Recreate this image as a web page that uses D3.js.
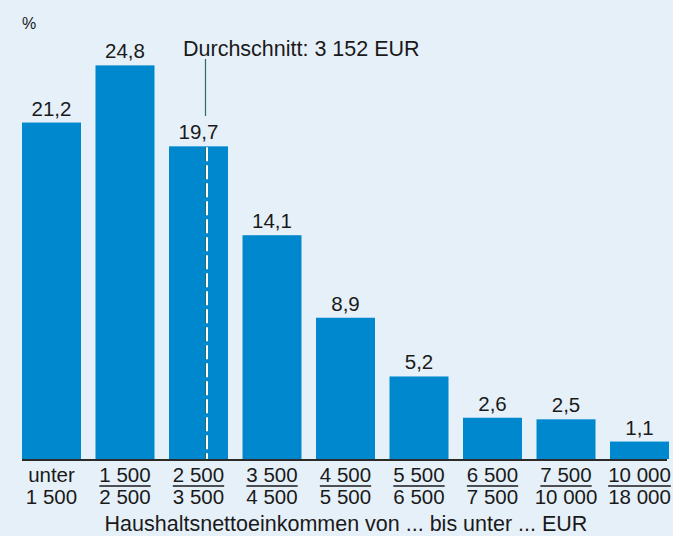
<!DOCTYPE html>
<html><head><meta charset="utf-8">
<script src="https://cdn.jsdelivr.net/npm/d3@7"></script>
<style>
html,body{margin:0;padding:0;background:#e6f0f9;}
svg{display:block;font-family:"Liberation Sans",Arial,sans-serif;}
</style></head><body>
<svg id="c" width="673" height="536"></svg>
<script>
const lowerBounds = [null, "1 500", "2 500", "3 500", "4 500", "5 500", "6 500", "7 500", "10 000"];
const upperBounds = ["1 500", "2 500", "3 500", "4 500", "5 500", "6 500", "7 500", "10 000", "18 000"];
const lowerNum = [0, 1500, 2500, 3500, 4500, 5500, 6500, 7500, 10000];
const upperNum = [1500, 2500, 3500, 4500, 5500, 6500, 7500, 10000, 18000];
const values = [21.2, 24.8, 19.7, 14.1, 8.9, 5.2, 2.6, 2.5, 1.1];
const averageIncome = 3152;
const averageLabel = "Durchschnitt: 3 152 EUR";
const unitLabel = "%";
const axisTitle = "Haushaltsnettoeinkommen von ... bis unter ... EUR";

const cats = upperBounds.map((u,i)=>i);
const svg = d3.select("#c");
const ink = "#1a1a1a";
const barColor = "#0088cf";

const x = d3.scaleBand().domain(cats).range([22, 669]).paddingInner(0.1973).paddingOuter(0);
const y = d3.scaleLinear().domain([0, 28.92]).range([459, 0]);

svg.append("rect").attr("width",673).attr("height",536).attr("fill","#e6f0f9");

svg.selectAll("rect.bar").data(values).join("rect").attr("class","bar")
  .attr("x",(d,i)=>x(i)).attr("width",x.bandwidth())
  .attr("y",d=>y(d)).attr("height",d=>y(0)-y(d)).attr("fill",barColor);

svg.selectAll("text.val").data(values).join("text").attr("class","val")
  .attr("x",(d,i)=>x(i)+x.bandwidth()/2).attr("y",d=>y(d)-7)
  .attr("text-anchor","middle").attr("font-size",20.5).attr("fill",ink)
  .text(d=>d3.format(".1f")(d).replace(".",","));

// axis line
svg.append("line").attr("x1",x(0)).attr("x2",x(8)+x.bandwidth()-2)
  .attr("y1",y(0)+1).attr("y2",y(0)+1).attr("stroke","#2b2b2b").attr("stroke-width",2);

// average marker
const bi = lowerNum.findIndex((l,i)=>averageIncome>=l && averageIncome<upperNum[i]);
const ax = Math.round(x(bi) + (averageIncome-lowerNum[bi])/(upperNum[bi]-lowerNum[bi])*x.bandwidth());
svg.append("line").attr("x1",ax-1.5).attr("x2",ax-1.5).attr("y1",59).attr("y2",116)
  .attr("stroke","#2d6b6b").attr("stroke-width",1.2);
svg.append("line").attr("x1",ax-1.5).attr("x2",ax-1.5).attr("y1",y(values[bi])+1).attr("y2",y(0))
  .attr("stroke","#2d6b6b").attr("stroke-width",1).attr("stroke-dasharray","14,4");
svg.append("line").attr("x1",ax).attr("x2",ax).attr("y1",y(values[bi])+1).attr("y2",y(0))
  .attr("stroke","#ffffff").attr("stroke-width",2).attr("stroke-dasharray","14,4");
svg.append("text").attr("x",183).attr("y",56).attr("font-size",21.5).attr("fill",ink).text(averageLabel);

// unit
svg.append("text").attr("x",22).attr("y",29).attr("font-size",16).attr("fill",ink).text(unitLabel);

// category labels
const g = svg.append("g");
cats.forEach(i=>{
  const cx = x(i)+x.bandwidth()/2;
  const top = lowerBounds[i]===null ? "unter" : lowerBounds[i];
  const t1 = g.append("text").attr("x",cx).attr("y",482).attr("text-anchor","middle")
    .attr("font-size",20.5).attr("fill",ink).text(top);
  g.append("text").attr("x",cx).attr("y",504).attr("text-anchor","middle")
    .attr("font-size",20.5).attr("fill",ink).text(upperBounds[i]);
  if(lowerBounds[i]!==null){
    const w = t1.node().getComputedTextLength();
    g.append("line").attr("x1",cx-w/2).attr("x2",cx+w/2).attr("y1",486).attr("y2",486)
      .attr("stroke",ink).attr("stroke-width",1.3);
  }
});

svg.append("text").attr("x",346).attr("y",530.5).attr("text-anchor","middle")
  .attr("font-size",21.5).attr("fill",ink).text(axisTitle);
</script>
</body></html>
